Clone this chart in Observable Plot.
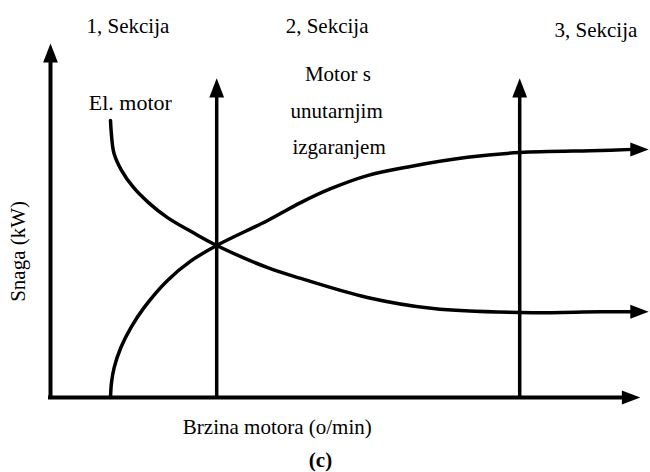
<!DOCTYPE html>
<html>
<head>
<meta charset="utf-8">
<script src="https://cdn.jsdelivr.net/npm/d3@7"></script>
<script src="https://cdn.jsdelivr.net/npm/@observablehq/plot@0.6"></script>
<style>
  body { margin: 0; background: #fff; width: 650px; height: 472px; overflow: hidden; }
  #chart svg { display: block; }
</style>
</head>
<body>
<div id="chart"></div>
<script>
// ---- data (speed in % of range, power in % of range) ----
const elSpeed  = [10, 10.17, 10.58, 11.83, 13.83, 16.33, 19.5, 23.67, 27.7, 36.2, 41.7, 52.8, 63.8, 78.2, 91.7, 97];
const elPower  = [69.8, 66.0, 61.5, 57.2, 52.9, 49.1, 45.3, 41.6, 38.3, 32.7, 30.0, 25.2, 22.4, 21.4, 21.6, 21.6];
const iceSpeed = [10, 10.17, 10.62, 11.73, 13.4, 15.62, 19.5, 23.3, 27.7, 36.2, 41.7, 46.7, 52.8, 60.0, 69.5, 78.2, 91.7, 97];
const icePower = [0, 3.8, 7.6, 12.6, 17.6, 22.7, 29.5, 34.3, 38.3, 44.6, 49.1, 52.6, 55.9, 58.2, 60.5, 61.7, 62.2, 62.5];
const sectionBounds = [27.7, 78.2];
const sectionLabels = ["1, Sekcija", "2, Sekcija", "3, Sekcija"];
const elLabel = "El. motor";
const iceLabel = ["Motor s", "unutarnjim", "izgaranjem"];
const yTitle = "Snaga (kW)";
const xTitle = "Brzina motora (o/min)";
const caption = "(c)";

// ---- layout (data units) ----
const xEnd = 98.3, yEnd = 89.2, boundEnd = 80.4, curveTip = 99.7;
const sectionPos = [{x: 12.9, y: 93.6}, {x: 46.1, y: 93.6}, {x: 90.9, y: 92.4}];
const icePos = [{x: 47.9, y: 81.5}, {x: 47.7, y: 72.2}, {x: 48.1, y: 63.1}];

const serif = "Liberation Serif";
const arrowUp = {draw(ctx, size) {
  const r = Math.sqrt(size / Math.PI), L = 4.8 * r, w = 1.85 * r;
  ctx.moveTo(0, 0); ctx.lineTo(w, L); ctx.lineTo(-w, L); ctx.closePath();
}};
const arrowRight = {draw(ctx, size) {
  const r = Math.sqrt(size / Math.PI), L = 4.6 * r, w = 1.75 * r;
  ctx.moveTo(0, 0); ctx.lineTo(-L, w); ctx.lineTo(-L, -w); ctx.closePath();
}};

const el = elSpeed.map((x, i) => ({x, y: elPower[i]}));
const ice = iceSpeed.map((x, i) => ({x, y: icePower[i]}));
const upTips = [{x: 0, y: yEnd}, ...sectionBounds.map(x => ({x, y: boundEnd}))];
const rightTips = [
  {x: xEnd, y: 0},
  {x: curveTip, y: elPower[elPower.length - 1]},
  {x: curveTip, y: icePower[icePower.length - 1]}
];
const sections = sectionLabels.map((t, i) => ({text: t, ...sectionPos[i]}));
const iceText = iceLabel.map((t, i) => ({text: t, ...icePos[i]}));

const chart = Plot.plot({
  width: 650,
  height: 472,
  marginLeft: 50, marginRight: 0, marginTop: 0, marginBottom: 75,
  x: {domain: [0, 100], axis: null},
  y: {domain: [0, 100], axis: null},
  style: {background: "white", color: "black", fontFamily: serif},
  marks: [
    // axes
    Plot.ruleY([0], {x1: 0, x2: xEnd - 3, stroke: "black", strokeWidth: 4, strokeLinecap: "square"}),
    Plot.ruleX([0], {y1: 0, y2: yEnd - 4, stroke: "black", strokeWidth: 4, strokeLinecap: "square"}),
    // section boundaries
    Plot.ruleX(sectionBounds, {y1: 0, y2: boundEnd - 4, stroke: "black", strokeWidth: 3.5}),
    // curves
    Plot.line(el, {x: "x", y: "y", curve: "catmull-rom", stroke: "black", strokeWidth: 3.5}),
    Plot.line(ice, {x: "x", y: "y", curve: "catmull-rom", stroke: "black", strokeWidth: 3.5}),
    // arrowheads
    Plot.dot(upTips, {x: "x", y: "y", symbol: arrowUp, r: 4, fill: "black", stroke: "none"}),
    Plot.dot(rightTips, {x: "x", y: "y", symbol: arrowRight, r: 4, fill: "black", stroke: "none"}),
    // labels
    Plot.text(sections, {x: "x", y: "y", text: "text", fontSize: 21, fontFamily: serif, fill: "black"}),
    Plot.text([elLabel], {x: 13.3, y: 74.1, text: d => d, fontSize: 22, fontFamily: serif, fill: "black", letterSpacing: 1}),
    Plot.text(iceText, {x: "x", y: "y", text: "text", fontSize: 21, fontFamily: serif, fill: "black"}),
    Plot.text([yTitle], {x: -5.3, y: 36.8, text: d => d, rotate: -90, fontSize: 21, fontFamily: serif, fill: "black"}),
    Plot.text([xTitle], {x: 37.8, y: -7.6, text: d => d, fontSize: 21, fontFamily: serif, fill: "black"}),
    Plot.text([caption], {x: 45, y: -15.9, text: d => d, fontSize: 21, fontWeight: "bold", fontFamily: serif, fill: "black"})
  ]
});
document.getElementById("chart").appendChild(chart);
</script>
</body>
</html>
